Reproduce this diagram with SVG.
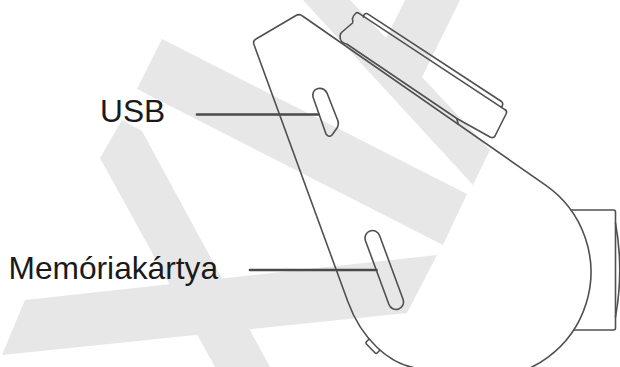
<svg xmlns="http://www.w3.org/2000/svg" width="620" height="367" viewBox="0 0 620 367">
  <style>
    .wm { fill: #e7e7e7; }
    .ln { fill: none; stroke: #505050; stroke-width: 1.6; stroke-linejoin: round; stroke-linecap: round; }
    .leader { stroke: #4a4a4a; stroke-width: 2.7; }
    .lbl { font-family: "Liberation Sans", Arial, sans-serif; font-size: 31.7px; fill: #1a1a1a; }
  </style>

  <rect width="620" height="367" fill="#fff"/>

  <!-- background logo strokes -->
  <g id="watermark" class="wm">
    <polygon points="303,0 350,0 386,38 405,0 460,0 422,77 490,150 473,185"/>
    <polygon points="162,39 467,194 443,245 137,89"/>
    <polygon points="100,158 122,120 142,131 270,367 215,367"/>
    <polygon points="25,300 437,255 407,313 2,355"/>
  </g>

  <!-- dash camera, side view -->
  <g id="camera" class="ln">
    <g id="body">
      <path d="M254.5,46 Q252,41 256,39 L296,15.5 Q299.5,13.5 302.5,16 L545.2,184.8 A106,106 0 0 1 485,378 L425,369 C388,368 360,335 348,302 Z"/>
      <path d="M369.2,339 L366.2,342 Q365.6,343 366.4,344 L375.2,353 Q376.2,353.8 377.2,353 L379.8,350.3"/>
    </g>
    <g id="mount">
      <path d="M356,13 Q353,15.5 352.3,19 Q353.5,21.5 352.5,23 L341.5,32.5 Q339.3,35 340.5,39.5 Q342,43 346.7,44 L456.8,118.5 L490.5,137.3 Q493.5,138.5 495,136 L506.3,113.5 Q507.5,111 504.5,109.3 L359,13.3 Q357.5,12.2 356,13 Z"/>
      <path d="M363.3,17.1 Q363.5,13.2 367.3,13.6 L501.5,101.5 Q504,103.5 501.5,107.3"/>
      <path d="M456.8,118.5 L458.2,124.2"/>
    </g>
    <g id="lens">
      <path d="M571,210 L613.5,210 Q615.5,210 615.5,212 L615.5,328 Q615.5,330 613.5,330 L573.7,330"/>
      <path d="M615.5,223 Q624,270 615.5,317"/>
    </g>
    <g id="usb-port">
      <path d="M313,97 Q312,90 318,88.5 Q324,87.5 327,93 L338,121 Q339,125 337,128 L332,135 Q329,138 326,134 Z"/>
    </g>
    <g id="sd-slot">
      <rect x="-41.5" y="-7.5" width="83" height="15" rx="7.5" transform="translate(384.25,270) rotate(69.8)"/>
    </g>
  </g>

  <!-- leader lines -->
  <g id="leaders" class="ln leader">
    <line x1="197" y1="114.5" x2="318.5" y2="114.5"/>
    <line x1="250" y1="270" x2="376.5" y2="270"/>
  </g>

  <g id="label-usb">
    <text class="lbl" x="100" y="121.5">USB</text>
  </g>
  <g id="label-sd">
    <text class="lbl" x="8.5" y="279">Memóriakártya</text>
  </g>
</svg>
